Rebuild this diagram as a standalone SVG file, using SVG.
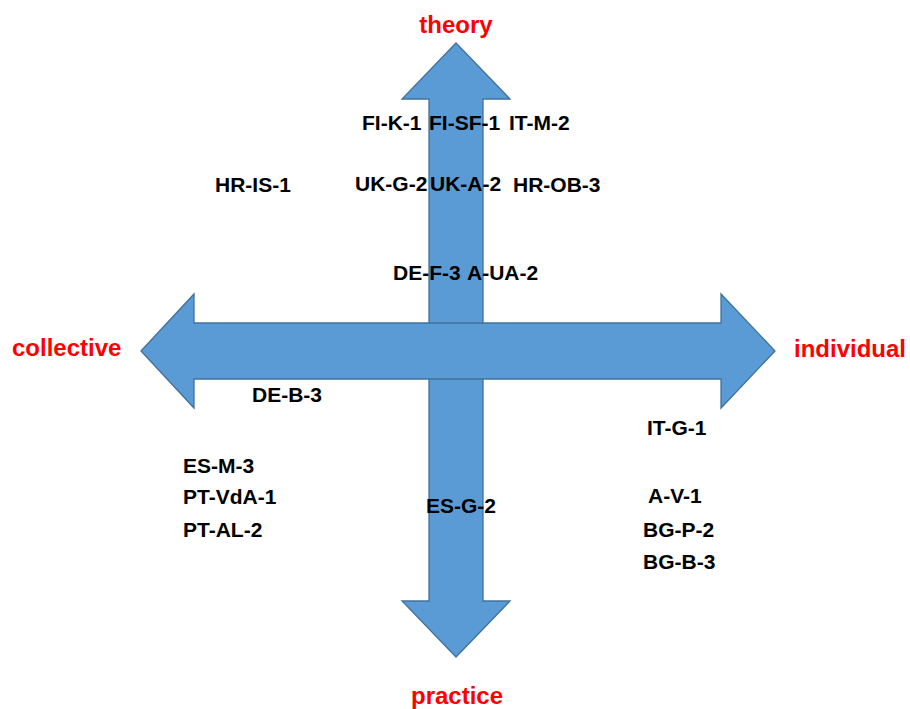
<svg xmlns="http://www.w3.org/2000/svg" width="910" height="709" viewBox="0 0 910 709">
  <style>
    .arrow { fill: #5B9BD5; stroke: #41719C; stroke-width: 1.3; stroke-linejoin: miter; }
    .axis { font-family: "Liberation Sans", Arial, sans-serif; font-weight: bold; font-size: 24px; fill: #FF0000; }
    .case { font-family: "Liberation Sans", Arial, sans-serif; font-weight: bold; font-size: 21px; fill: #000000; }
  </style>
  <rect width="910" height="709" fill="#FFFFFF"/>

  <!-- Axes: theory/practice (vertical) and collective/individual (horizontal) -->
  <g id="connectors">
    <polygon id="axis-vertical" class="arrow" points="456,43 510,99 483,99 483,601 510,601 456,657 402,601 429,601 429,99 402,99"/>
    <polygon id="axis-horizontal" class="arrow" points="141,351 194,294 194,323 721,323 721,294 775,351 721,408 721,379 194,379 194,408"/>
  </g>

  <!-- Axis end labels -->
  <g id="label-theory"><text class="axis" x="456" y="33" text-anchor="middle">theory</text></g>
  <g id="label-practice"><text class="axis" x="457" y="704" text-anchor="middle">practice</text></g>
  <g id="label-collective"><text class="axis" x="12" y="356">collective</text></g>
  <g id="label-individual"><text class="axis" x="794" y="357">individual</text></g>

  <!-- Case codes -->
  <g id="FI-K-1"><text class="case" x="362" y="130">FI-K-1</text></g>
  <g id="FI-SF-1"><text class="case" x="429" y="130">FI-SF-1</text></g>
  <g id="IT-M-2"><text class="case" x="509" y="130">IT-M-2</text></g>
  <g id="HR-IS-1"><text class="case" x="215" y="192">HR-IS-1</text></g>
  <g id="UK-G-2"><text class="case" x="355" y="191">UK-G-2</text></g>
  <g id="UK-A-2"><text class="case" x="430" y="191">UK-A-2</text></g>
  <g id="HR-OB-3"><text class="case" x="513" y="192">HR-OB-3</text></g>
  <g id="DE-F-3"><text class="case" x="393" y="280">DE-F-3</text></g>
  <g id="A-UA-2"><text class="case" x="467" y="280">A-UA-2</text></g>
  <g id="DE-B-3"><text class="case" x="252" y="402">DE-B-3</text></g>
  <g id="IT-G-1"><text class="case" x="647" y="435">IT-G-1</text></g>
  <g id="ES-M-3"><text class="case" x="183" y="473">ES-M-3</text></g>
  <g id="PT-VdA-1"><text class="case" x="183" y="504">PT-VdA-1</text></g>
  <g id="PT-AL-2"><text class="case" x="183" y="537">PT-AL-2</text></g>
  <g id="ES-G-2"><text class="case" x="426" y="513">ES-G-2</text></g>
  <g id="A-V-1"><text class="case" x="648" y="503">A-V-1</text></g>
  <g id="BG-P-2"><text class="case" x="643" y="537">BG-P-2</text></g>
  <g id="BG-B-3"><text class="case" x="643" y="569">BG-B-3</text></g>
</svg>
